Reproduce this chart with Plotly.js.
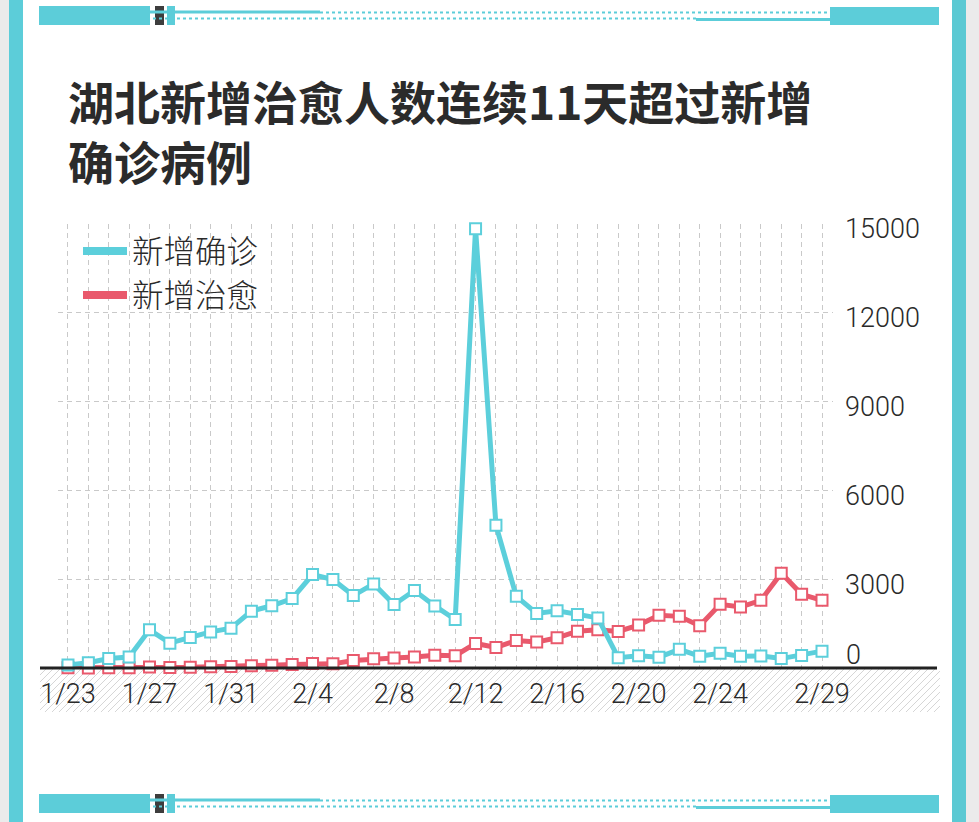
<!DOCTYPE html>
<html><head><meta charset="utf-8">
<script src="https://cdn.plot.ly/plotly-3.0.1.min.js"></script>
<style>html,body{margin:0;padding:0;background:#fff;} #chart{width:979px;height:822px;}</style>
</head><body><div id="chart"></div>
<script>
const dates = ['1/23','1/24','1/25','1/26','1/27','1/28','1/29','1/30','1/31',
  '2/1','2/2','2/3','2/4','2/5','2/6','2/7','2/8','2/9','2/10',
  '2/11','2/12','2/13','2/14','2/15','2/16','2/17','2/18','2/19','2/20',
  '2/21','2/22','2/23','2/24','2/25','2/26','2/27','2/28','2/29'];
const newConfirmed = [105,180,323,371,1291,840,1032,1220,1347,
  1921,2103,2345,3156,2987,2447,2841,2147,2618,2097,
  1638,14840,4823,2420,1843,1933,1807,1693,349,411,
  366,630,398,499,401,409,318,423,570];
const newCured = [5,3,10,5,30,15,25,45,50,
  75,95,120,150,140,250,310,335,370,430,
  415,830,695,930,875,1020,1245,1290,1235,1450,
  1785,1745,1430,2150,2060,2285,3205,2490,2285];
const xTickLabels = ['1/23','1/27','1/31','2/4','2/8','2/12','2/16','2/20','2/24','2/29'];
const yTickVals = [0,3000,6000,9000,12000,15000];
const seriesNames = ['新增确诊','新增治愈'];
const titleText = '湖北新增治愈人数连续11天超过新增<br>确诊病例';

const W=979, H=822, M={l:58, r:146, t:224, b:154};
const PW=W-M.l-M.r, PH=H-M.t-M.b;
const px = x => (x-M.l)/PW;
const py = y => (H-M.b-y)/PH;

const CYAN='#5ccfdb', RED='#e9596c', DECO='#5ccdd9';
const TXT='#2a2a2a';

function rect(x0,y0,x1,y1,color,layer){
  return {type:'rect',xref:'paper',yref:'paper',x0:px(x0),x1:px(x1),y0:py(y0),y1:py(y1),
    fillcolor:color,line:{width:0},layer:layer||'above'};
}
function hline(x0,x1,y,color,width,dash,layer){
  return {type:'line',xref:'paper',yref:'paper',x0:px(x0),x1:px(x1),y0:py(y),y1:py(y),
    line:{color:color,width:width,dash:dash||'solid'},layer:layer||'above'};
}
function deco(dy){
  return [
    rect(39,6+dy,150,25+dy,DECO),
    rect(155,6+dy,164,25+dy,'#3d3d3d'),
    rect(167,6+dy,175,25+dy,DECO),
    hline(150,320,12+dy,DECO,3),
    hline(320,830,12.5+dy,DECO,2,'dot'),
    hline(153,696,18.5+dy,DECO,2,'dot'),
    hline(696,830,19.5+dy,DECO,3),
    rect(830,7+dy,939,25+dy,DECO)
  ];
}
// hatch below axis
let hp='';
for(let c=40-44; c<=940; c+=7){
  let xa=c, ya=712, xb=c+44, yb=668;
  if(xa<40){ ya=712-(40-xa); xa=40; }
  if(xb>940){ yb=668+(xb-940); xb=940; }
  if(xb<=xa) continue;
  hp += 'M'+px(xa).toFixed(5)+','+py(ya).toFixed(5)+'L'+px(xb).toFixed(5)+','+py(yb).toFixed(5);
}
const shapes = [
  rect(0,0,9,822,'#ebebeb','below'),
  rect(966,0,979,822,'#ebebeb','below'),
  rect(9,0,23,822,DECO,'below'),
  rect(952,0,966,822,'#5bc9d3','below'),
  {type:'path',xref:'paper',yref:'paper',path:hp,line:{color:'#d6d6d6',width:1},layer:'below'},
  ...deco(0), ...deco(788),
  hline(40,937,668,'#222222',3,'solid','above')
];

const tickFont = {family:'Roboto, "Liberation Sans", sans-serif', size:27, color:TXT, weight:300};
const cjkFont = {family:'"Noto Sans CJK SC", sans-serif', size:31.5, color:TXT, weight:300};

const traces = [
  {x:[null],y:[null],mode:'lines',name:seriesNames[0],line:{color:CYAN,width:8},showlegend:true,hoverinfo:'skip'},
  {x:[null],y:[null],mode:'lines',name:seriesNames[1],line:{color:RED,width:8},showlegend:true,hoverinfo:'skip'},
  {x:dates,y:newCured,mode:'lines+markers',name:seriesNames[1],showlegend:false,cliponaxis:false,
    line:{color:RED,width:5},marker:{symbol:'square',size:11,color:'#ffffff',line:{color:RED,width:2}}},
  {x:dates,y:newConfirmed,mode:'lines+markers',name:seriesNames[0],showlegend:false,cliponaxis:false,
    line:{color:CYAN,width:5},marker:{symbol:'square',size:11,color:'#ffffff',line:{color:CYAN,width:2}}}
];

const layout = {
  width:W, height:H, margin:{l:M.l,r:M.r,t:M.t,b:M.b,pad:0},
  paper_bgcolor:'#ffffff', plot_bgcolor:'rgba(0,0,0,0)',
  title:{text:titleText, xref:'container', yref:'container', x:68/W, xanchor:'left',
    y:1-120/H, yanchor:'top',
    font:{family:'"Noto Sans CJK SC", sans-serif', size:46, weight:'bold', color:'#2b2b2b'}},
  xaxis:{type:'category', range:[-0.49,37.54], tickvals:dates,
    ticktext:dates.map(d => xTickLabels.includes(d) ? d : ''),
    showgrid:true, gridcolor:'#c9c9c9', griddash:'5px,4px', gridwidth:1,
    showline:false, zeroline:false, ticks:'', tickfont:tickFont, ticklabelstandoff:7, fixedrange:true},
  yaxis:{side:'right', range:[0,15000], tickvals:yTickVals.filter(v=>v>0),
    ticktext:yTickVals.filter(v=>v>0).map(String),
    showgrid:true, gridcolor:'#c9c9c9', griddash:'5px,4px', gridwidth:1,
    showline:false, zeroline:false, ticks:'', tickfont:tickFont, ticklabelstandoff:11, ticklabelshift:5, fixedrange:true},
  legend:{x:px(78), xref:'paper', y:py(224), yref:'paper', xanchor:'left', yanchor:'top',
    font:cjkFont, bgcolor:'rgba(0,0,0,0)', itemwidth:44, tracegroupgap:0},
  annotations:[{xref:'paper', x:px(844), yref:'y', y:yTickVals[0], xanchor:'left', yanchor:'middle',
    yshift:13, text:String(yTickVals[0]), showarrow:false, font:tickFont}],
  shapes:shapes
};
Plotly.newPlot('chart', traces, layout, {displayModeBar:false, staticPlot:true});
</script></body></html>
